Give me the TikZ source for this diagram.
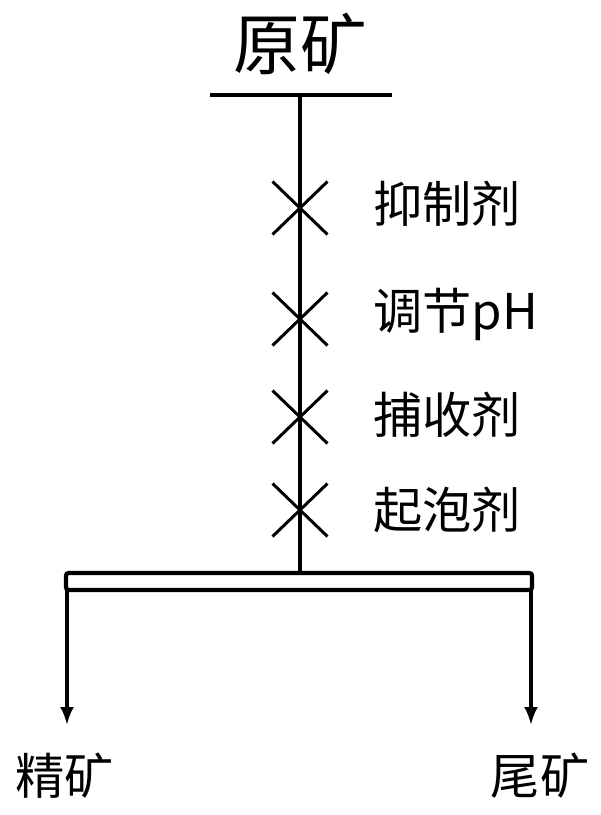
\documentclass[tikz,border=0pt]{standalone}
\usepackage{fontspec}
\newfontfamily\cjk{Noto Sans CJK SC}
\usetikzlibrary{shapes.misc,arrows.meta}
\begin{document}
\begin{tikzpicture}[labelStyle/.style={font=\cjk\fontsize{28}{30}\selectfont, inner sep=0pt},
                    crossStyle/.style={cross out, draw, line width=1.7pt, minimum width=1.04cm, minimum height=1cm, inner sep=0pt},
                    lineStyle/.style={line width=1.9pt},
                    barStyle/.style={line width=2.4pt, rounded corners=1.5pt}]
                    \useasboundingbox (0,0) rectangle (12,-16.3);

                    \node[font=\cjk\fontsize{38}{40}\selectfont, inner sep=0pt](raw) at (6, -0.88) {原矿};
                    \coordinate(topL) at (4.2, -1.9);
                    \coordinate(topR) at (7.84, -1.9);
                    \coordinate(top) at (6, -1.9);
                    \coordinate(join) at (6, -11.46);

                    \node[crossStyle](c1) at (6, -4.16) {};
                    \node[crossStyle](c2) at (6, -6.38) {};
                    \node[crossStyle](c3) at (6, -8.34) {};
                    \node[crossStyle](c4) at (6, -10.2) {};
                    \node[labelStyle, anchor=west](l1) at (7.46, -4.08) {抑制剂};
                    \node[labelStyle, anchor=west](l2) at (7.46, -6.28) {调节pH};
                    \node[labelStyle, anchor=west](l3) at (7.46, -8.3) {捕收剂};
                    \node[labelStyle, anchor=west](l4) at (7.46, -10.2) {起泡剂};

                    \coordinate(barL) at (1.32, -11.46);
                    \coordinate(barR) at (10.64, -11.8);
                    \coordinate(outL) at (1.34, -11.8);
                    \coordinate(outR) at (10.62, -11.8);
                    \coordinate(endL) at (1.34, -14.5);
                    \coordinate(endR) at (10.62, -14.5);
                    \node[labelStyle](conc) at (1.3, -15.52) {精矿};
                    \node[labelStyle](tail) at (10.8, -15.52) {尾矿};

                    \draw[lineStyle] (topL) -- (topR);
                    \draw[lineStyle] (top) -- (join);
                    \draw[barStyle] (barL) rectangle (barR);
                    \draw[lineStyle, -{Latex[length=3.6mm, width=2.8mm]}] (outL) -- (endL);
                    \draw[lineStyle, -{Latex[length=3.6mm, width=2.8mm]}] (outR) -- (endR);
                \end{tikzpicture}
\end{document}
